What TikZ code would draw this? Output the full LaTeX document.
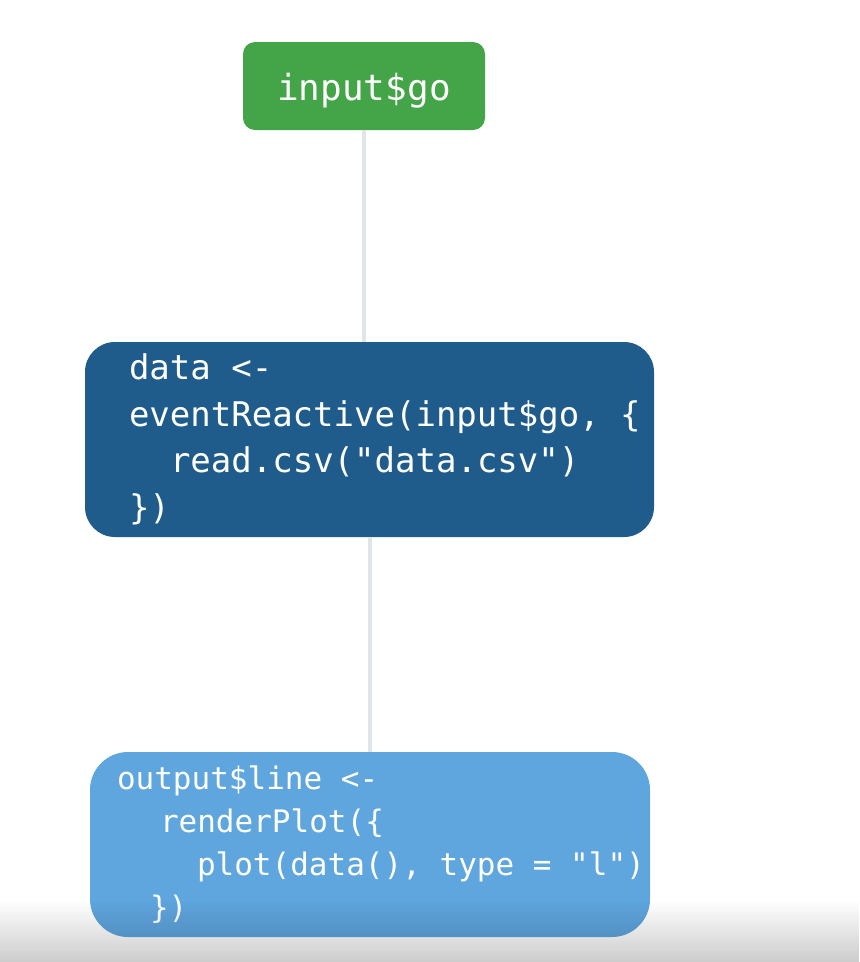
\documentclass[tikz,border=0pt]{standalone}
\usepackage{fontspec}
\setmonofont{DejaVu Sans Mono}
\usetikzlibrary{fadings}
\definecolor{gogreen}{RGB}{67,164,72}
\definecolor{reactblue}{RGB}{31,92,140}
\definecolor{outblue}{RGB}{95,165,222}
\definecolor{linkgray}{RGB}{226,229,231}
\begin{document}
\begin{tikzpicture}[x=1pt,y=-1pt,
    box/.style={rounded corners=#1, text=white, inner ysep=0pt, align=left},
    link/.style={draw=linkgray, line width=4pt}]
		\fill[white] (0,0) rectangle (860,962);
		\useasboundingbox (0,0) rectangle (860,962);
		\node[box=12pt, fill=gogreen, minimum width=242pt, minimum height=88pt,
		      font=\fontsize{36}{43}\selectfont\ttfamily] (go) at (364,86) {\raisebox{-14pt}[0pt][0pt]{input\$go}};
		\node[box=30pt, fill=reactblue, text width=481pt, inner xsep=44pt, minimum height=195pt,
		      font=\fontsize{34}{46.5}\selectfont\ttfamily] (data) at (369.5,439.5)
		      {\spaceskip=0pt\relax data <-\\ \mbox{eventReactive(input\$go, \{}\\ \hspace*{41pt}\mbox{read.csv("data.csv")}\\ \})};
		\node[box=38pt, fill=outblue, text width=506pt, inner xsep=27pt, minimum height=185pt,
		      font=\fontsize{31}{43}\selectfont\ttfamily] (plot) at (370,844.5)
		      {\spaceskip=0pt\relax \mbox{output\$line <-}\\ \hspace*{43pt}renderPlot(\{\\ \hspace*{80pt}\mbox{plot(data(), type = "l")}\\ \hspace*{33pt}\})};
		\draw[link] (go.south) -- (go.south |- data.north);
		\draw[link] (data.south) -- (data.south |- plot.north);
		% shadow along the bottom edge
		\fill[black, opacity=0.2, path fading=north] (0,900) rectangle (860,962);
\end{tikzpicture}
\end{document}
